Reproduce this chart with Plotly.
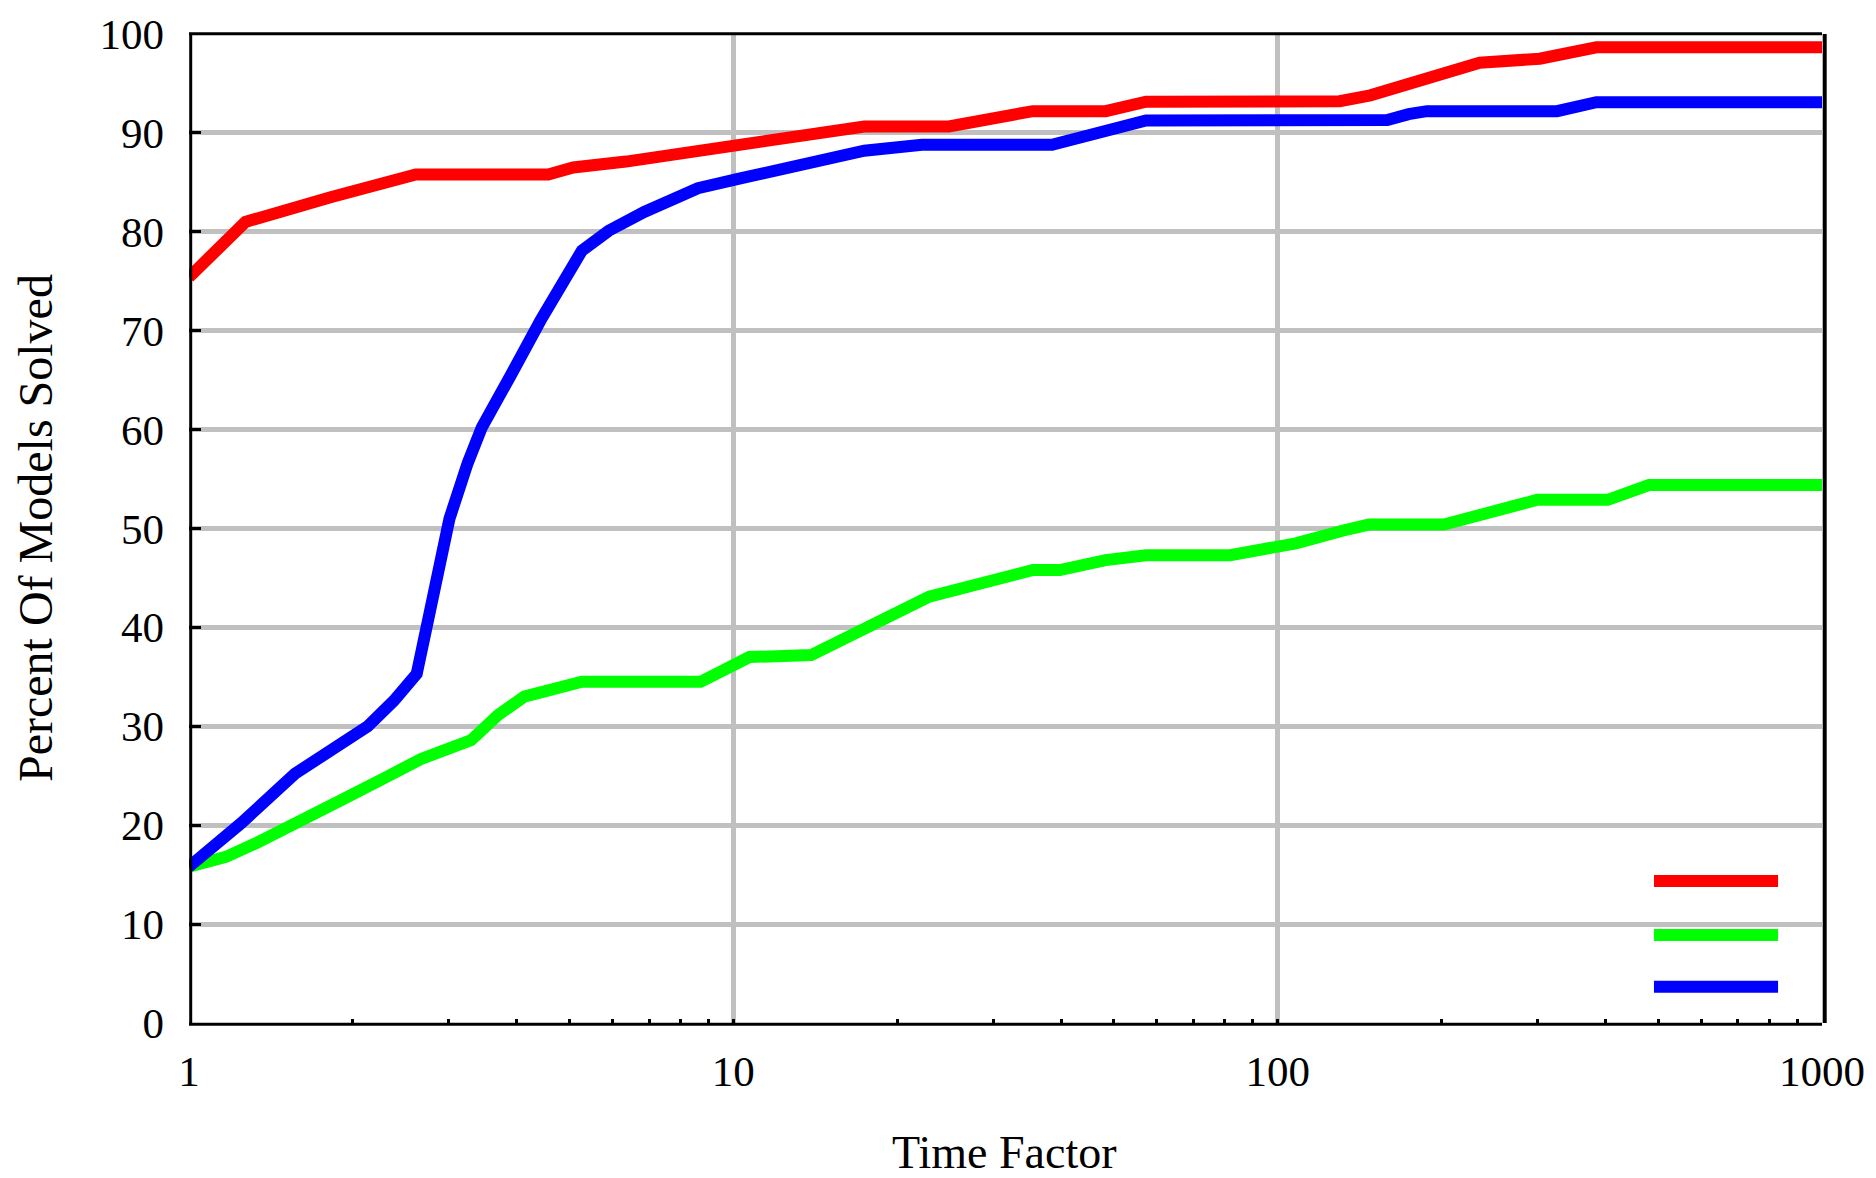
import plotly.graph_objects as go

# ---- data ----
red_x = [1, 1.27, 1.82, 2.61, 4.57, 5.08, 6.35, 7.98, 10.3, 17.4, 24.9, 35.5, 48.3, 57.3,
         130, 148, 235, 265, 303, 385, 1000]
red_y = [75.4, 81.0, 83.5, 85.8, 85.8, 86.5, 87.1, 87.9, 88.6, 90.65, 90.65, 92.2, 92.2, 93.15,
         93.2, 93.8, 97.1, 97.3, 97.5, 98.65, 98.65]

blue_x = [1, 1.247, 1.565, 1.90, 2.13, 2.38, 2.62, 2.78, 3.01, 3.25, 3.45, 3.91, 4.42, 5.27,
          5.90, 6.86, 8.61, 10.3, 17.4, 22.2, 38.5, 57.3, 159, 174, 188, 326, 356, 385, 1000]
blue_y = [15.8, 20.2, 25.2, 28.4, 30.0, 32.6, 35.3, 42.0, 51.0, 56.6, 60.2, 65.6, 71.0, 78.1,
          80.1, 82.0, 84.4, 85.4, 88.2, 88.8, 88.8, 91.25, 91.3, 91.9, 92.2, 92.2, 92.8, 93.1, 93.1]

green_x = [1, 1.169, 1.33, 1.565, 1.90, 2.31, 2.67, 3.30, 3.69, 4.13, 5.27, 8.71, 10.2, 10.7,
           13.9, 17.1, 22.9, 35.5, 39.8, 48.3, 57.3, 81.8, 98, 108, 132, 147, 202, 237, 300,
           404, 481, 1000]
green_y = [15.8, 16.8, 18.2, 20.3, 22.5, 24.9, 26.7, 28.6, 31.1, 33.0, 34.5, 34.5, 36.2, 37.0,
           37.2, 39.7, 43.1, 45.8, 45.8, 46.8, 47.3, 47.3, 48.1, 48.5, 49.8, 50.4, 50.4, 51.3, 52.9,
           52.9, 54.4, 54.4]

series_colors = ["#FF0000", "#00FF00", "#0000FF"]

x_tickvals = [1, 10, 100, 1000]
x_ticktext = ["1", "10", "100", "1000"]
x_minor_vals = [m * d for d in (1, 10, 100) for m in range(2, 10)]
y_tickvals = list(range(0, 101, 10))

x_title = "Time Factor"
y_title = "Percent Of Models Solved"

FONT = "Liberation Serif"
GRID = "#C0C0C0"
LW = 12

fig = go.Figure()
for xs, ys, col in [(red_x, red_y, series_colors[0]),
                    (green_x, green_y, series_colors[1]),
                    (blue_x, blue_y, series_colors[2])]:
    fig.add_trace(go.Scatter(x=xs, y=ys, mode="lines",
                             line=dict(color=col, width=LW),
                             showlegend=False, hoverinfo="skip"))

# page body has an 8px margin; keep figure inside the 1876x1178 window
W, H = 1860, 1162
L, R, T, B = 181, 46, 26, 147

fig.update_layout(
    width=W, height=H,
    margin=dict(l=L, r=R, t=T, b=B, pad=0, autoexpand=False),
    paper_bgcolor="white", plot_bgcolor="white",
    font=dict(family=FONT, size=43, color="black"),
    showlegend=False,
)

fig.update_xaxes(
    type="log", range=[0, 3], automargin=False,
    tickmode="array", tickvals=x_tickvals, ticktext=x_ticktext,
    showgrid=True, gridcolor=GRID, gridwidth=5,
    ticks="inside", ticklen=4, tickwidth=3, tickcolor="black",
    minor=dict(tickmode="array", tickvals=x_minor_vals, ticks="inside",
               ticklen=4, tickwidth=3, tickcolor="black", showgrid=False),
    showline=False, zeroline=False,
    tickfont=dict(family=FONT, size=43, color="black"),
    ticklabelstandoff=19,
)
fig.update_yaxes(
    range=[0, 100], automargin=False,
    tickmode="array", tickvals=y_tickvals,
    showgrid=True, gridcolor=GRID, gridwidth=5,
    ticks="inside", ticklen=12, tickwidth=3, tickcolor="black",
    showline=False, zeroline=False,
    tickfont=dict(family=FONT, size=43, color="black"),
    ticklabelstandoff=24,
)

# black frame lines (offset slightly like the original)
frame = [
    dict(x0=1.7, x1=1.7, xanchor=0, y0=0, y1=1, w=3, xs="pixel", ys="scaled"),
    dict(x0=0, x1=1, y0=0.3, y1=0.3, yanchor=1, w=3, xs="scaled", ys="pixel"),
    dict(x0=2.7, x1=2.7, xanchor=1, y0=0, y1=1, w=4, xs="pixel", ys="scaled"),
    dict(x0=0, x1=1, y0=-1.2, y1=-1.2, yanchor=0, w=3, xs="scaled", ys="pixel"),
]
for f in frame:
    shp = dict(type="line", xref="x domain", yref="y domain",
               x0=f["x0"], x1=f["x1"], y0=f["y0"], y1=f["y1"],
               xsizemode=f["xs"], ysizemode=f["ys"],
               line=dict(color="black", width=f["w"]), layer="above")
    if "xanchor" in f:
        shp["xanchor"] = f["xanchor"]
    if "yanchor" in f:
        shp["yanchor"] = f["yanchor"]
    fig.add_shape(**shp)

# legend box (white, labels absent in the original) with colour samples
fig.add_shape(type="rect", xref="paper", yref="paper",
              x0=0.7679, x1=0.9865, y0=0.0111, y1=0.18,
              fillcolor="white", line=dict(width=0), layer="between")
for col, yy in zip(series_colors, [0.1436, 0.089, 0.0367]):
    fig.add_shape(type="line", xref="paper", yref="paper",
                  x0=0.8971, x1=0.9731, y0=yy, y1=yy,
                  line=dict(color=col, width=LW), layer="above")

fig.add_annotation(text=x_title, xref="paper", yref="paper",
                   x=0.4991, y=-0.1305, xanchor="center", yanchor="middle",
                   showarrow=False, font=dict(family=FONT, size=46, color="black"))
fig.add_annotation(text=y_title, xref="paper", yref="paper",
                   x=-0.0943, y=0.5005, xanchor="center", yanchor="middle",
                   textangle=-90, showarrow=False,
                   font=dict(family=FONT, size=48, color="black"))

fig.write_html("out.html")
